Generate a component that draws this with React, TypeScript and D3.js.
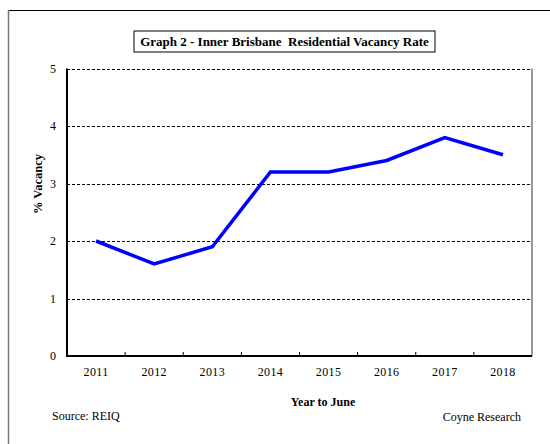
import React from "react";
import * as d3 from "d3";

const years: string[] = ["2011", "2012", "2013", "2014", "2015", "2016", "2017", "2018"];
const vacancy: number[] = [2.0, 1.6, 1.9, 3.2, 3.2, 3.4, 3.8, 3.5];
const yTicks: number[] = [0, 1, 2, 3, 4, 5];

const W = 550;
const H = 444;
const left = 67;
const right = 532;
const top = 68.5;
const bottom = 356;
const FONT = '"Liberation Serif", "Times New Roman", Times, serif';

export default function App() {
  const x = d3.scaleBand<string>().domain(years).range([left, right]).paddingInner(0).paddingOuter(0);
  const y = d3.scaleLinear().domain([0, 5]).range([bottom, top]);
  const line = d3
    .line<number>()
    .x((_, i) => (x(years[i]) as number) + x.bandwidth() / 2)
    .y((d) => y(d));
  const boundaries = years.slice(1).map((yr) => x(yr) as number);
  const ts: React.CSSProperties = { fontFamily: FONT };

  return (
    <svg width={W} height={H} style={{ position: "absolute", left: 0, top: 0, background: "#fff", fontFamily: FONT }}>
      {/* outer frame */}
      <line x1={8.5} x2={W} y1={10.5} y2={10.5} stroke="#000" strokeWidth={1.2} />
      <line x1={8.5} x2={8.5} y1={10} y2={H} stroke="#777" strokeWidth={1.5} />

      {/* title */}
      <rect x={134} y={31} width={301} height={21} fill="#fff" stroke="#000" strokeWidth={1} />
      <text x={284.5} y={45.5} textAnchor="middle" fontWeight="bold" fontSize={13} fill="#000" style={{ ...ts, whiteSpace: "pre" }}>
        {"Graph 2 - Inner Brisbane  Residential Vacancy Rate"}
      </text>

      {/* gridlines */}
      {yTicks.filter((t) => t > 0).map((t) => (
        <line key={t} x1={left} x2={right} y1={Math.round(y(t)) + 0.5} y2={Math.round(y(t)) + 0.5} stroke="#000" strokeWidth={1} strokeDasharray="3,2" />
      ))}

      {/* right border */}
      <line x1={right} x2={right} y1={top} y2={bottom} stroke="#777" strokeWidth={1.5} />

      {/* series */}
      <path d={line(vacancy) || ""} fill="none" stroke="#0000ff" strokeWidth={3.5} strokeLinejoin="miter" />

      {/* axes */}
      <line x1={left} x2={left} y1={top} y2={bottom + 1} stroke="#000" strokeWidth={2} />
      <line x1={left} x2={right} y1={bottom} y2={bottom} stroke="#000" strokeWidth={2} />
      {boundaries.map((bx, i) => (
        <line key={i} x1={bx} x2={bx} y1={bottom} y2={bottom - 4} stroke="#000" strokeWidth={1} />
      ))}

      {/* y tick labels */}
      {yTicks.map((t) => (
        <text key={t} x={56} y={y(t) + 4} textAnchor="end" fontSize={12} fill="#000" style={ts}>
          {t}
        </text>
      ))}

      {/* x tick labels */}
      {years.map((yr) => (
        <text key={yr} x={(x(yr) as number) + x.bandwidth() / 2} y={375.5} textAnchor="middle" fontSize={12} fill="#000" letterSpacing={0.4} style={ts}>
          {yr}
        </text>
      ))}

      {/* axis titles */}
      <text x={323} y={406} textAnchor="middle" fontWeight="bold" fontSize={12} fill="#000" style={ts}>
        Year to June
      </text>
      <text transform="translate(41.5,184) rotate(-90)" textAnchor="middle" fontWeight="bold" fontSize={12.5} fill="#000" style={ts}>
        % Vacancy
      </text>

      {/* footer */}
      <text x={52} y={420} fontSize={12} fill="#000" style={ts}>
        Source: REIQ
      </text>
      <text x={521} y={421} textAnchor="end" fontSize={12} fill="#000" style={ts}>
        Coyne Research
      </text>
    </svg>
  );
}
